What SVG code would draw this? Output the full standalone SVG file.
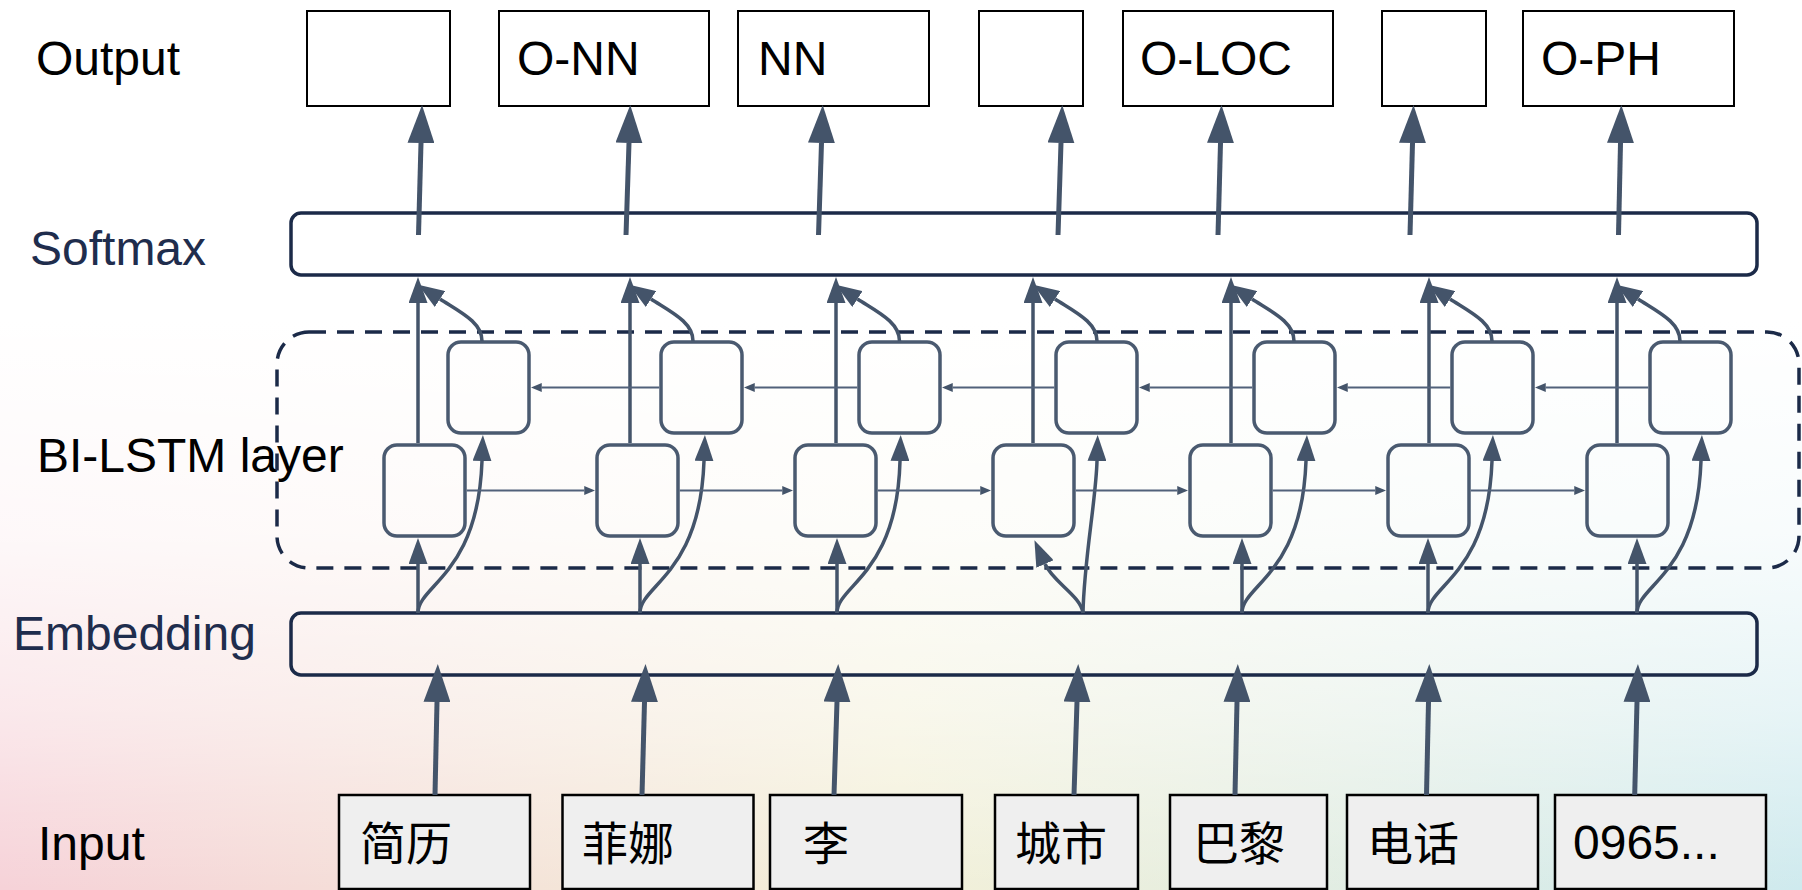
<svg xmlns="http://www.w3.org/2000/svg" width="1802" height="890" viewBox="0 0 1802 890">
  <defs>
    <linearGradient id="bgHue" x1="0" y1="0" x2="1" y2="0">
      <stop offset="0" stop-color="#f6d2d8"/>
      <stop offset="0.5" stop-color="#f3f0d8"/>
      <stop offset="1" stop-color="#cfeaee"/>
    </linearGradient>
    <linearGradient id="bgFade" x1="0" y1="0" x2="0" y2="1">
      <stop offset="0" stop-color="#ffffff" stop-opacity="1"/>
      <stop offset="0.36" stop-color="#ffffff" stop-opacity="1"/>
      <stop offset="0.6" stop-color="#ffffff" stop-opacity="0.85"/>
      <stop offset="0.8" stop-color="#ffffff" stop-opacity="0.5"/>
      <stop offset="1" stop-color="#ffffff" stop-opacity="0"/>
    </linearGradient>
    <marker id="headL" markerUnits="userSpaceOnUse" viewBox="0 0 38 27" markerWidth="38" markerHeight="27" refX="0" refY="13.5" orient="auto">
      <path d="M0,0 L38,13.5 L0,27 z" fill="#44546a"/>
    </marker>
    <marker id="headM" markerUnits="userSpaceOnUse" viewBox="0 0 26 19" markerWidth="26" markerHeight="19" refX="0" refY="9.5" orient="auto">
      <path d="M0,0 L26,9.5 L0,19 z" fill="#44546a"/>
    </marker>
    <marker id="headS" markerUnits="userSpaceOnUse" viewBox="0 0 11 9" markerWidth="11" markerHeight="9" refX="0" refY="4.5" orient="auto">
      <path d="M0,0 L11,4.5 L0,9 z" fill="#44546a"/>
    </marker>
    <style>
      .label { font-family: "Liberation Sans", Arial, sans-serif; font-size: 48px; fill: #000; }
      .navy { fill: #1f2d4d; }
      .cjk { font-family: "Liberation Sans", "Noto Sans CJK SC", sans-serif; font-size: 46px; fill: #000; }
      .outbox { fill: #ffffff; stroke: #000; stroke-width: 2; }
      .inbox { fill: #efefef; stroke: #000; stroke-width: 2.5; }
      .bar { fill: none; stroke: #1b2a48; stroke-width: 3.5; }
      .cell { fill: none; stroke: #4a5a70; stroke-width: 3.5; }
      .group { fill: none; stroke: #1b2a48; stroke-width: 3.5; stroke-dasharray: 17 11; }
      .big { fill: none; stroke: #44546a; stroke-width: 5; marker-end: url(#headL); }
      .mid { fill: none; stroke: #44546a; stroke-width: 3.5; marker-end: url(#headM); }
      .thin { fill: none; stroke: #51617a; stroke-width: 2; marker-end: url(#headS); }
    </style>
  </defs>

  <!-- background wash -->
  <rect x="0" y="0" width="1802" height="890" fill="url(#bgHue)"/>
  <rect x="0" y="0" width="1802" height="890" fill="url(#bgFade)"/>

  <!-- row labels -->
  <g id="row-labels">
    <text class="label" x="36" y="75">Output</text>
    <text class="label navy" x="30" y="265">Softmax</text>
    <text class="label" x="37" y="472">BI-LSTM layer</text>
    <text class="label navy" x="13" y="650">Embedding</text>
    <text class="label" x="38" y="860">Input</text>
  </g>

  <!-- BI-LSTM layer frame -->
  <g id="bilstm-frame">
    <rect class="group" x="277" y="332" width="1522" height="236" rx="32"/>
  </g>

  <!-- output tags -->
  <g id="out-1"><rect class="outbox" x="307" y="11" width="143" height="95"/></g>
  <g id="out-2"><rect class="outbox" x="499" y="11" width="210" height="95"/><text class="label" x="517" y="75">O-NN</text></g>
  <g id="out-3"><rect class="outbox" x="738" y="11" width="191" height="95"/><text class="label" x="758" y="75">NN</text></g>
  <g id="out-4"><rect class="outbox" x="979" y="11" width="104" height="95"/></g>
  <g id="out-5"><rect class="outbox" x="1123" y="11" width="210" height="95"/><text class="label" x="1140" y="75">O-LOC</text></g>
  <g id="out-6"><rect class="outbox" x="1382" y="11" width="104" height="95"/></g>
  <g id="out-7"><rect class="outbox" x="1523" y="11" width="211" height="95"/><text class="label" x="1541" y="75">O-PH</text></g>

  <!-- softmax and embedding layers -->
  <g id="softmax"><rect class="bar" x="291" y="213" width="1466" height="62" rx="10"/></g>
  <g id="embedding"><rect class="bar" x="291" y="613" width="1466" height="62" rx="10"/></g>

  <!-- forward LSTM cells -->
  <g id="fwd-1"><rect class="cell" x="384" y="445" width="81" height="91" rx="13"/></g>
  <g id="fwd-2"><rect class="cell" x="597" y="445" width="81" height="91" rx="13"/></g>
  <g id="fwd-3"><rect class="cell" x="795" y="445" width="81" height="91" rx="13"/></g>
  <g id="fwd-4"><rect class="cell" x="993" y="445" width="81" height="91" rx="13"/></g>
  <g id="fwd-5"><rect class="cell" x="1190" y="445" width="81" height="91" rx="13"/></g>
  <g id="fwd-6"><rect class="cell" x="1388" y="445" width="81" height="91" rx="13"/></g>
  <g id="fwd-7"><rect class="cell" x="1587" y="445" width="81" height="91" rx="13"/></g>

  <!-- backward LSTM cells -->
  <g id="bwd-1"><rect class="cell" x="448" y="342" width="81" height="91" rx="13"/></g>
  <g id="bwd-2"><rect class="cell" x="661" y="342" width="81" height="91" rx="13"/></g>
  <g id="bwd-3"><rect class="cell" x="859" y="342" width="81" height="91" rx="13"/></g>
  <g id="bwd-4"><rect class="cell" x="1056" y="342" width="81" height="91" rx="13"/></g>
  <g id="bwd-5"><rect class="cell" x="1254" y="342" width="81" height="91" rx="13"/></g>
  <g id="bwd-6"><rect class="cell" x="1452" y="342" width="81" height="91" rx="13"/></g>
  <g id="bwd-7"><rect class="cell" x="1650" y="342" width="81" height="91" rx="13"/></g>

  <!-- input tokens -->
  <g id="in-1"><rect class="inbox" x="339" y="795" width="191" height="94"/><text class="cjk" x="360" y="860">简历</text></g>
  <g id="in-2"><rect class="inbox" x="562.5" y="795" width="191" height="94"/><text class="cjk" x="582" y="860">菲娜</text></g>
  <g id="in-3"><rect class="inbox" x="770" y="795" width="192" height="94"/><text class="cjk" x="803" y="860">李</text></g>
  <g id="in-4"><rect class="inbox" x="995" y="795" width="143" height="94"/><text class="cjk" x="1015" y="860">城市</text></g>
  <g id="in-5"><rect class="inbox" x="1170" y="795" width="157" height="94"/><text class="cjk" x="1193" y="860">巴黎</text></g>
  <g id="in-6"><rect class="inbox" x="1347" y="795" width="191" height="94"/><text class="cjk" x="1367" y="860">电话</text></g>
  <g id="in-7"><rect class="inbox" x="1555" y="795" width="211" height="94"/><text class="label" x="1573" y="859">0965...</text></g>

  <!-- connectors -->
  <g id="connectors">
    <!-- input tokens to embedding -->
    <path class="big" d="M435,795 L437,702"/>
    <path class="big" d="M642,795 L644.5,702"/>
    <path class="big" d="M834,795 L837,702"/>
    <path class="big" d="M1074,795 L1077,702"/>
    <path class="big" d="M1235,795 L1237,702"/>
    <path class="big" d="M1426.5,795 L1428.5,702"/>
    <path class="big" d="M1634.7,795 L1637,702"/>

    <!-- softmax to output tags -->
    <path class="big" d="M418.5,235 L421,143"/>
    <path class="big" d="M626,235 L629,143"/>
    <path class="big" d="M818.5,235 L821.5,143"/>
    <path class="big" d="M1058,235 L1061,143"/>
    <path class="big" d="M1218,235 L1220.5,143"/>
    <path class="big" d="M1410,235 L1412.5,143"/>
    <path class="big" d="M1618.5,235 L1620.5,143"/>

    <!-- embedding to forward cells -->
    <path class="mid" d="M418,613 L418,564"/>
    <path class="mid" d="M640,613 L640,564"/>
    <path class="mid" d="M837,613 L837,564"/>
    <path class="mid" d="M1083,613 C1081,596 1053,582 1045,564"/>
    <path class="mid" d="M1242,613 L1242,564"/>
    <path class="mid" d="M1428,613 L1428,564"/>
    <path class="mid" d="M1637,613 L1637,564"/>

    <!-- embedding to backward cells -->
    <path class="mid" d="M418,613 C418,585 478,575 482,461"/>
    <path class="mid" d="M640,613 C640,585 700,575 704,461"/>
    <path class="mid" d="M837,613 C837,585 897,575 900,461"/>
    <path class="mid" d="M1083,613 C1084,560 1096,500 1097,461"/>
    <path class="mid" d="M1242,613 C1242,585 1302,575 1306,461"/>
    <path class="mid" d="M1428,613 C1428,585 1488,575 1492,461"/>
    <path class="mid" d="M1637,613 C1637,585 1697,575 1701,461"/>

    <!-- backward cells to softmax -->
    <path class="mid" d="M482,341 C482,322 460,312 440,299"/>
    <path class="mid" d="M693,341 C693,322 671,312 651,299"/>
    <path class="mid" d="M899.5,341 C899.5,322 877.5,312 857.5,299"/>
    <path class="mid" d="M1097,341 C1097,322 1075,312 1055,299"/>
    <path class="mid" d="M1294,341 C1294,322 1272,312 1252,299"/>
    <path class="mid" d="M1492,341 C1492,322 1470,312 1450,299"/>
    <path class="mid" d="M1680,341 C1680,322 1658,312 1638,299"/>

    <!-- forward cells to softmax -->
    <path class="mid" d="M418,443 L418,303"/>
    <path class="mid" d="M630,443 L630,303"/>
    <path class="mid" d="M836,443 L836,303"/>
    <path class="mid" d="M1033,443 L1033,303"/>
    <path class="mid" d="M1231,443 L1231,303"/>
    <path class="mid" d="M1429,443 L1429,303"/>
    <path class="mid" d="M1617,443 L1617,303"/>

    <!-- forward recurrence -->
    <path class="thin" d="M466.75,490.5 L584.25,490.5"/>
    <path class="thin" d="M679.75,490.5 L782.25,490.5"/>
    <path class="thin" d="M877.75,490.5 L980.25,490.5"/>
    <path class="thin" d="M1075.75,490.5 L1177.25,490.5"/>
    <path class="thin" d="M1272.75,490.5 L1375.25,490.5"/>
    <path class="thin" d="M1470.75,490.5 L1574.25,490.5"/>

    <!-- backward recurrence -->
    <path class="thin" d="M659.25,387.5 L541.75,387.5"/>
    <path class="thin" d="M857.25,387.5 L754.75,387.5"/>
    <path class="thin" d="M1054.25,387.5 L952.75,387.5"/>
    <path class="thin" d="M1252.25,387.5 L1149.75,387.5"/>
    <path class="thin" d="M1450.25,387.5 L1347.75,387.5"/>
    <path class="thin" d="M1648.25,387.5 L1545.75,387.5"/>
  </g>
</svg>
